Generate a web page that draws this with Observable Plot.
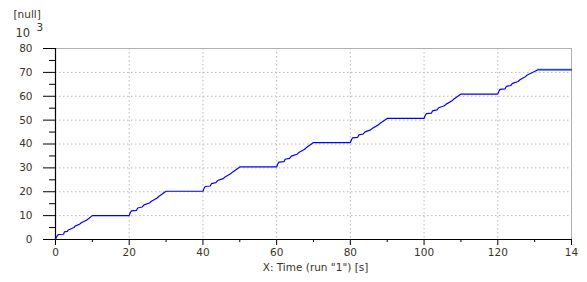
<!DOCTYPE html>
<html>
<head>
<meta charset="utf-8">
<script src="https://cdn.jsdelivr.net/npm/d3@7"></script>
<script src="https://cdn.jsdelivr.net/npm/@observablehq/plot@0.6"></script>
<style>
  html, body { margin: 0; padding: 0; background: #fff; }
</style>
</head>
<body>
<div id="chart"></div>
<script>
// Time (s)
const times = [
  0, 0.3, 0.8, 2.2, 2.4, 3.2, 3.5, 5, 5.3, 6.5, 7, 8.5, 10,
  20, 20.3, 20.6, 22, 22.3, 23.5, 24, 25.5, 26, 27.5, 28, 30,
  40, 40.3, 40.6, 42, 42.3, 43.5, 44, 45.5, 46, 47.5, 48, 50,
  60, 60.3, 60.6, 62, 62.3, 63.5, 64, 65.5, 66, 67.5, 68, 70,
  80, 80.3, 80.6, 82, 82.3, 83.5, 84, 85.5, 86, 87.5, 88, 90,
  100, 100.3, 100.6, 102, 102.3, 103.5, 104, 105.5, 106, 107.5, 108, 110,
  120, 120.3, 120.6, 122, 122.3, 123.5, 124, 125.5, 126, 127.5, 128, 130.8,
  140
];
// Values (x 10^3)
const values = [
  0, 1.2, 2.1, 2.2, 3.2, 3.4, 4.0, 5.0, 5.6, 6.4, 7.0, 8.2, 10.0,
  10.0, 11.3, 12.0, 12.2, 13.2, 13.6, 14.5, 15.3, 16.0, 17.3, 18.0, 20.2,
  20.2, 21.4, 22.2, 22.4, 23.4, 23.8, 24.7, 25.5, 26.2, 27.5, 28.2, 30.4,
  30.4, 31.6, 32.4, 32.6, 33.6, 34.0, 34.9, 35.7, 36.4, 37.7, 38.4, 40.6,
  40.6, 41.8, 42.6, 42.8, 43.8, 44.2, 45.1, 45.9, 46.6, 47.9, 48.6, 50.7,
  50.7, 51.9, 52.7, 52.9, 53.9, 54.3, 55.2, 56.0, 56.7, 58.0, 58.7, 60.9,
  60.9, 62.1, 62.9, 63.1, 64.1, 64.5, 65.4, 66.2, 66.9, 68.2, 68.9, 71.0,
  71.0
];
// second (green) series, visible only at the end
const times2 = [130.8, 140];
const values2 = [71.3, 71.3];

const xMajor = [0, 20, 40, 60, 80, 100, 120, 140];
const xMinor = [10, 30, 50, 70, 90, 110, 130];
const yMajor = [0, 10, 20, 30, 40, 50, 60, 70, 80];
const yMinor = [5, 15, 25, 35, 45, 55, 65, 75];
const xGrid = [20, 40, 60, 80, 100, 120];
const yGrid = [10, 20, 30, 40, 50, 60, 70];

const data = times.map((t, i) => ({t, v: values[i]}));
const data2 = times2.map((t, i) => ({t, v: values2[i]}));

const chart = Plot.plot({
  width: 587,
  height: 282,
  marginLeft: 55,
  marginRight: 16,
  marginTop: 48,
  marginBottom: 43,
  style: {fontFamily: "DejaVu Sans, sans-serif", fontSize: "10.5px", color: "#3a3328", background: "#fff"},
  x: {domain: [0, 140]},
  y: {domain: [0, 80]},
  marks: [
    Plot.ruleY(yGrid, {stroke: "#b8b8b8", strokeDasharray: "1.5,2.5", strokeWidth: 1}),
    Plot.ruleX(xGrid, {stroke: "#b8b8b8", strokeDasharray: "1.5,2.5", strokeWidth: 1}),
    Plot.ruleY([80], {stroke: "#b0b0b0", strokeWidth: 1}),
    Plot.ruleX([140], {stroke: "#b0b0b0", strokeWidth: 1}),
    Plot.axisX({ticks: xMajor, tickSize: 6, tickPadding: 3, label: null, stroke: "#000", tickFormat: d => d === 140 ? "14" : String(d)}),
    Plot.axisX({ticks: xMinor, tickSize: 3, text: null, label: null, stroke: "#000"}),
    Plot.axisY({ticks: yMajor, tickSize: 12, tickPadding: 11, label: null, stroke: "#000"}),
    Plot.axisY({ticks: yMinor, tickSize: 6, text: null, label: null, stroke: "#000"}),
    Plot.ruleX([0], {stroke: "#000", strokeWidth: 1.2}),
    Plot.ruleY([0], {stroke: "#000", strokeWidth: 1.2}),
    Plot.line(data2, {x: "t", y: "v", stroke: "#1a8a1a", strokeWidth: 1.2}),
    Plot.line(data, {x: "t", y: "v", stroke: "#0000ff", strokeWidth: 1.2}),
    Plot.text(["X: Time (run \"1\") [s]"], {frameAnchor: "bottom", dx: 2, dy: 31, fill: "#3a3328", fontSize: 10.5}),
    Plot.text(["[null]"], {frameAnchor: "top-left", textAnchor: "start", lineAnchor: "middle", dx: -42, dy: -34, fill: "#3a3328", fontSize: 10.5}),
    Plot.text(["10"], {frameAnchor: "top-left", textAnchor: "start", lineAnchor: "middle", dx: -40, dy: -15, fill: "#3a3328", fontSize: 11.5}),
    Plot.text(["3"], {frameAnchor: "top-left", textAnchor: "start", lineAnchor: "middle", dx: -19, dy: -21, fill: "#3a3328", fontSize: 10.5})
  ]
});
document.getElementById("chart").appendChild(chart);
</script>
</body>
</html>
